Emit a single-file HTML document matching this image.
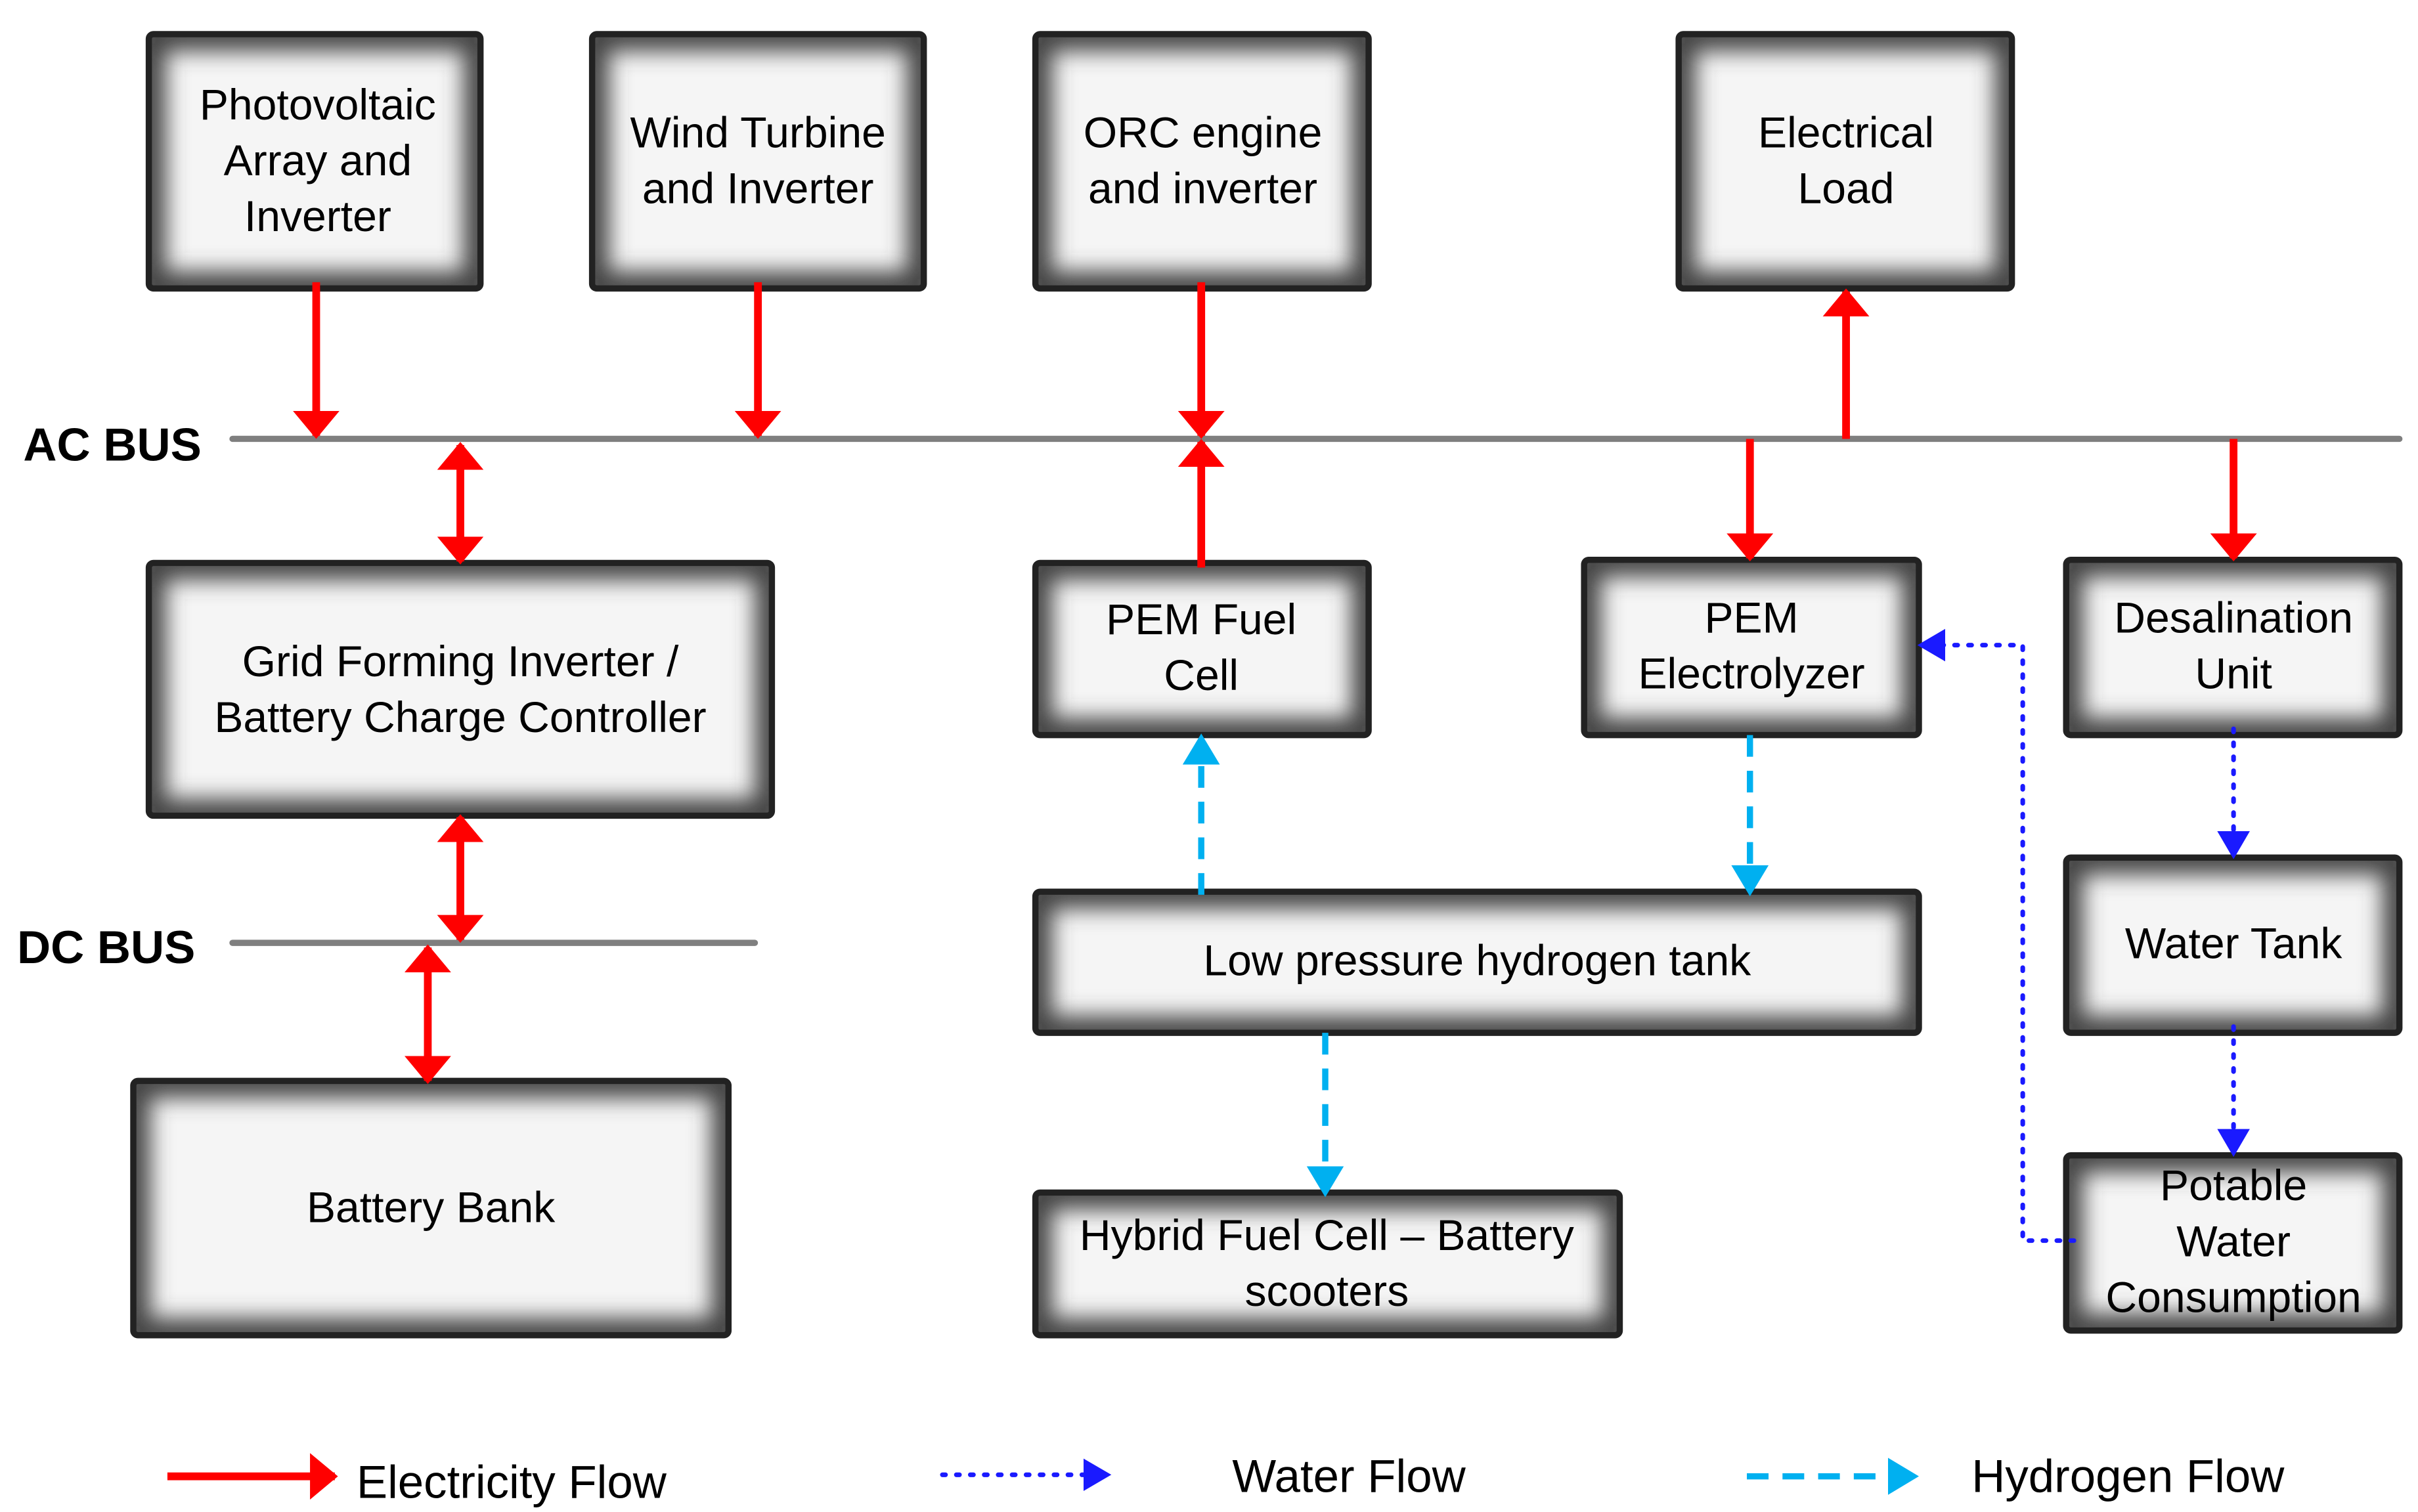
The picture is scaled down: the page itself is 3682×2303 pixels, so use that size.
<!DOCTYPE html>
<html><head><meta charset="utf-8"><style>
html,body{margin:0;padding:0;background:#fff}
svg{display:block}
text{font-family:"Liberation Sans",sans-serif;fill:#000}
</style></head><body>
<svg width="3682" height="2303" viewBox="0 0 1560 975" preserveAspectRatio="none" xmlns="http://www.w3.org/2000/svg">
<defs>
<filter id="bl" x="-10%" y="-10%" width="120%" height="120%"><feGaussianBlur stdDeviation="7"/></filter>
<marker id="ra" markerWidth="3.6" markerHeight="6" refX="3.2" refY="3" orient="auto" markerUnits="strokeWidth"><path d="M0,0 L3.6,3 L0,6 z" fill="#f00"/></marker>
<marker id="rs" markerWidth="3.6" markerHeight="6" refX="0.4" refY="3" orient="auto" markerUnits="strokeWidth"><path d="M3.6,0 L0,3 L3.6,6 z" fill="#f00"/></marker>
<marker id="ca" markerWidth="6" markerHeight="6" refX="4" refY="3" orient="auto" markerUnits="strokeWidth"><path d="M0,0 L5,3 L0,6 z" fill="#00b0f0"/></marker>
<marker id="ba" markerWidth="7" markerHeight="7" refX="5" refY="3.5" orient="auto" markerUnits="strokeWidth"><path d="M0,0 L6,3.5 L0,7 z" fill="#1a1aff"/></marker>
</defs>
<g>
<g><clipPath id="c1"><rect x="96" y="22" width="214" height="164"/></clipPath><rect x="96" y="22" width="214" height="164" fill="#f5f5f5"/><rect x="96" y="22" width="214" height="164" fill="none" stroke="#444" stroke-width="22" filter="url(#bl)" clip-path="url(#c1)"/><rect x="96" y="22" width="214" height="164" fill="none" stroke="#222" stroke-width="4" rx="3"/></g>
<g><clipPath id="c2"><rect x="382" y="22" width="214" height="164"/></clipPath><rect x="382" y="22" width="214" height="164" fill="#f5f5f5"/><rect x="382" y="22" width="214" height="164" fill="none" stroke="#444" stroke-width="22" filter="url(#bl)" clip-path="url(#c2)"/><rect x="382" y="22" width="214" height="164" fill="none" stroke="#222" stroke-width="4" rx="3"/></g>
<g><clipPath id="c3"><rect x="668" y="22" width="215" height="164"/></clipPath><rect x="668" y="22" width="215" height="164" fill="#f5f5f5"/><rect x="668" y="22" width="215" height="164" fill="none" stroke="#444" stroke-width="22" filter="url(#bl)" clip-path="url(#c3)"/><rect x="668" y="22" width="215" height="164" fill="none" stroke="#222" stroke-width="4" rx="3"/></g>
<g><clipPath id="c4"><rect x="1083" y="22" width="215" height="164"/></clipPath><rect x="1083" y="22" width="215" height="164" fill="#f5f5f5"/><rect x="1083" y="22" width="215" height="164" fill="none" stroke="#444" stroke-width="22" filter="url(#bl)" clip-path="url(#c4)"/><rect x="1083" y="22" width="215" height="164" fill="none" stroke="#222" stroke-width="4" rx="3"/></g>
<g><clipPath id="c5"><rect x="96" y="363" width="402" height="163"/></clipPath><rect x="96" y="363" width="402" height="163" fill="#f5f5f5"/><rect x="96" y="363" width="402" height="163" fill="none" stroke="#444" stroke-width="22" filter="url(#bl)" clip-path="url(#c5)"/><rect x="96" y="363" width="402" height="163" fill="none" stroke="#222" stroke-width="4" rx="3"/></g>
<g><clipPath id="c6"><rect x="668" y="363" width="215" height="111"/></clipPath><rect x="668" y="363" width="215" height="111" fill="#f5f5f5"/><rect x="668" y="363" width="215" height="111" fill="none" stroke="#444" stroke-width="22" filter="url(#bl)" clip-path="url(#c6)"/><rect x="668" y="363" width="215" height="111" fill="none" stroke="#222" stroke-width="4" rx="3"/></g>
<g><clipPath id="c7"><rect x="1022" y="361" width="216" height="113"/></clipPath><rect x="1022" y="361" width="216" height="113" fill="#f5f5f5"/><rect x="1022" y="361" width="216" height="113" fill="none" stroke="#444" stroke-width="22" filter="url(#bl)" clip-path="url(#c7)"/><rect x="1022" y="361" width="216" height="113" fill="none" stroke="#222" stroke-width="4" rx="3"/></g>
<g><clipPath id="c8"><rect x="1333" y="361" width="215" height="113"/></clipPath><rect x="1333" y="361" width="215" height="113" fill="#f5f5f5"/><rect x="1333" y="361" width="215" height="113" fill="none" stroke="#444" stroke-width="22" filter="url(#bl)" clip-path="url(#c8)"/><rect x="1333" y="361" width="215" height="113" fill="none" stroke="#222" stroke-width="4" rx="3"/></g>
<g><clipPath id="c9"><rect x="1333" y="553" width="215" height="113"/></clipPath><rect x="1333" y="553" width="215" height="113" fill="#f5f5f5"/><rect x="1333" y="553" width="215" height="113" fill="none" stroke="#444" stroke-width="22" filter="url(#bl)" clip-path="url(#c9)"/><rect x="1333" y="553" width="215" height="113" fill="none" stroke="#222" stroke-width="4" rx="3"/></g>
<g><clipPath id="c10"><rect x="1333" y="745" width="215" height="113"/></clipPath><rect x="1333" y="745" width="215" height="113" fill="#f5f5f5"/><rect x="1333" y="745" width="215" height="113" fill="none" stroke="#444" stroke-width="22" filter="url(#bl)" clip-path="url(#c10)"/><rect x="1333" y="745" width="215" height="113" fill="none" stroke="#222" stroke-width="4" rx="3"/></g>
<g><clipPath id="c11"><rect x="668" y="575" width="570" height="91"/></clipPath><rect x="668" y="575" width="570" height="91" fill="#f5f5f5"/><rect x="668" y="575" width="570" height="91" fill="none" stroke="#444" stroke-width="22" filter="url(#bl)" clip-path="url(#c11)"/><rect x="668" y="575" width="570" height="91" fill="none" stroke="#222" stroke-width="4" rx="3"/></g>
<g><clipPath id="c12"><rect x="668" y="769" width="377" height="92"/></clipPath><rect x="668" y="769" width="377" height="92" fill="#f5f5f5"/><rect x="668" y="769" width="377" height="92" fill="none" stroke="#444" stroke-width="22" filter="url(#bl)" clip-path="url(#c12)"/><rect x="668" y="769" width="377" height="92" fill="none" stroke="#222" stroke-width="4" rx="3"/></g>
<g><clipPath id="c13"><rect x="86" y="697" width="384" height="164"/></clipPath><rect x="86" y="697" width="384" height="164" fill="#f5f5f5"/><rect x="86" y="697" width="384" height="164" fill="none" stroke="#444" stroke-width="22" filter="url(#bl)" clip-path="url(#c13)"/><rect x="86" y="697" width="384" height="164" fill="none" stroke="#222" stroke-width="4" rx="3"/></g>
</g>
<line x1="150" y1="283" x2="1548" y2="283" stroke="#7f7f7f" stroke-width="4" stroke-linecap="round"/>
<line x1="150" y1="608" x2="487" y2="608" stroke="#7f7f7f" stroke-width="4" stroke-linecap="round"/>
<text x="15" y="297" font-size="30" font-weight="bold">AC BUS</text>
<text x="11" y="621" font-size="30" font-weight="bold">DC BUS</text>
<g stroke="#f00" stroke-width="5" fill="none">
<line x1="204" y1="182" x2="204" y2="281" marker-end="url(#ra)"/>
<line x1="489" y1="182" x2="489" y2="281" marker-end="url(#ra)"/>
<line x1="775" y1="182" x2="775" y2="281" marker-end="url(#ra)"/>
<line x1="775" y1="366" x2="775" y2="285" marker-end="url(#ra)"/>
<line x1="1191" y1="283" x2="1191" y2="188" marker-end="url(#ra)"/>
<line x1="1129" y1="283" x2="1129" y2="360" marker-end="url(#ra)"/>
<line x1="1441" y1="283" x2="1441" y2="360" marker-end="url(#ra)"/>
<line x1="297" y1="287" x2="297" y2="362" marker-start="url(#rs)" marker-end="url(#ra)"/>
<line x1="297" y1="527" x2="297" y2="606" marker-start="url(#rs)" marker-end="url(#ra)"/>
<line x1="276" y1="611" x2="276" y2="697" marker-start="url(#rs)" marker-end="url(#ra)"/>
<line x1="108" y1="952" x2="216" y2="952" marker-end="url(#ra)"/>
</g>
<g stroke="#00b0f0" stroke-width="4" stroke-dasharray="14,9" fill="none">
<line x1="775" y1="577" x2="775" y2="477" marker-end="url(#ca)"/>
<line x1="1129" y1="474" x2="1129" y2="574" marker-end="url(#ca)"/>
<line x1="855" y1="666" x2="855" y2="768" marker-end="url(#ca)"/>
<line x1="1127" y1="952" x2="1234" y2="952" marker-end="url(#ca)"/>
</g>
<g stroke="#1a1aff" stroke-width="3" stroke-dasharray="2,7" stroke-linecap="round" fill="none">
<line x1="1441" y1="470" x2="1441" y2="551" marker-end="url(#ba)"/>
<line x1="1441" y1="662" x2="1441" y2="743" marker-end="url(#ba)"/>
<polyline points="1338,800 1305,800 1305,416 1240,416" marker-end="url(#ba)"/>
<line x1="608" y1="951" x2="714" y2="951" marker-end="url(#ba)"/>
</g>
<g font-size="28" text-anchor="middle">
<text x="205" y="77">Photovoltaic</text><text x="205" y="113">Array and</text><text x="205" y="149">Inverter</text>
<text x="489" y="95">Wind Turbine</text><text x="489" y="131">and Inverter</text>
<text x="776" y="95">ORC engine</text><text x="776" y="131">and inverter</text>
<text x="1191" y="95">Electrical</text><text x="1191" y="131">Load</text>
<text x="297" y="436">Grid Forming Inverter /</text><text x="297" y="472">Battery Charge Controller</text>
<text x="775" y="409">PEM Fuel</text><text x="775" y="445">Cell</text>
<text x="1130" y="408">PEM</text><text x="1130" y="444">Electrolyzer</text>
<text x="1441" y="408">Desalination</text><text x="1441" y="444">Unit</text>
<text x="1441" y="618">Water Tank</text>
<text x="1441" y="774">Potable</text><text x="1441" y="810">Water</text><text x="1441" y="846">Consumption</text>
<text x="953" y="629">Low pressure hydrogen tank</text>
<text x="856" y="806">Hybrid Fuel Cell – Battery</text><text x="856" y="842">scooters</text>
<text x="278" y="788">Battery Bank</text>
</g>
<g font-size="30">
<text x="230" y="966">Electricity Flow</text>
<text x="795" y="962">Water Flow</text>
<text x="1272" y="962">Hydrogen Flow</text>
</g>
</svg>
</body></html>
